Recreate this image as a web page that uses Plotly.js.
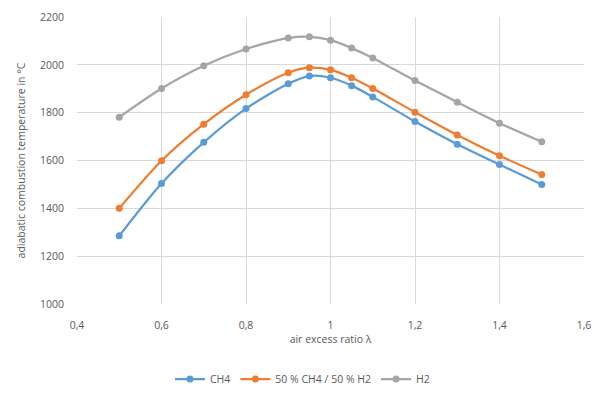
<!DOCTYPE html>
<html>
<head>
<meta charset="utf-8">
<script src="https://cdn.plot.ly/plotly-3.0.1.min.js"></script>
<style>html,body{margin:0;padding:0;background:#fff;}#chart{width:605px;height:399px;}</style>
</head>
<body>
<div id="chart"></div>
<script>
const lambda = [0.5, 0.6, 0.7, 0.8, 0.9, 0.95, 1.0, 1.05, 1.1, 1.2, 1.3, 1.4, 1.5];
const ch4 = [1285, 1504, 1676, 1817, 1921, 1953, 1946, 1913, 1866, 1763, 1668, 1583, 1500];
const mix = [1400, 1599, 1752, 1875, 1967, 1988, 1979, 1946, 1901, 1802, 1707, 1620, 1541];
const h2 = [1781, 1901, 1996, 2066, 2112, 2117, 2103, 2070, 2029, 1934, 1844, 1756, 1678];
const seriesNames = ['CH4', '50 % CH4 / 50 % H2', 'H2'];
const colors = ['#5b9bd5', '#ed7d31', '#a5a5a5'];
const xTicks = [0.4, 0.6, 0.8, 1.0, 1.2, 1.4, 1.6];
const xTickText = ['0,4', '0,6', '0,8', '1', '1,2', '1,4', '1,6'];

const font = 'Open Sans, sans-serif';
const data = [ch4, mix, h2].map((ys, i) => ({
  x: lambda, y: ys, name: seriesNames[i], type: 'scatter', mode: 'lines+markers',
  line: {color: colors[i], width: 2.25, shape: 'spline', smoothing: 0.8},
  marker: {color: colors[i], size: 7}
}));

const layout = {
  width: 605, height: 399,
  margin: {l: 77, r: 21, t: 17, b: 95},
  paper_bgcolor: '#fff', plot_bgcolor: '#fff',
  font: {family: font, size: 10.5, color: '#595959'},
  xaxis: {
    range: [0.4, 1.6], tickvals: xTicks, ticktext: xTickText,
    showgrid: true, gridcolor: '#d9d9d9', gridwidth: 1, zeroline: false,
    showline: false, ticks: 'outside', ticklen: 11, tickcolor: 'rgba(0,0,0,0)',
    tickfont: {family: font, size: 10.5, color: '#595959'},
    automargin: false,
    title: {text: 'air excess ratio λ', font: {family: font, size: 10.5, color: '#595959'}, standoff: 4}
  },
  yaxis: {
    range: [1000, 2200], dtick: 200,
    showgrid: true, gridcolor: '#d9d9d9', gridwidth: 1, zeroline: false,
    showline: false, ticks: 'outside', ticklen: 10, tickcolor: 'rgba(0,0,0,0)',
    tickfont: {family: font, size: 10.5, color: '#595959'},
    automargin: false,
    title: {text: 'adiabatic combustion temperature in °C', font: {family: font, size: 10.5, color: '#595959'}, standoff: 12}
  },
  showlegend: true,
  legend: {
    orientation: 'h', xref: 'container', yref: 'container',
    x: 0.5, xanchor: 'center', y: 0.05, yanchor: 'middle',
    font: {family: font, size: 10.5, color: '#595959'},
    itemwidth: 30, traceorder: 'normal'
  }
};

Plotly.newPlot('chart', data, layout, {displayModeBar: false, staticPlot: true});
</script>
</body>
</html>
